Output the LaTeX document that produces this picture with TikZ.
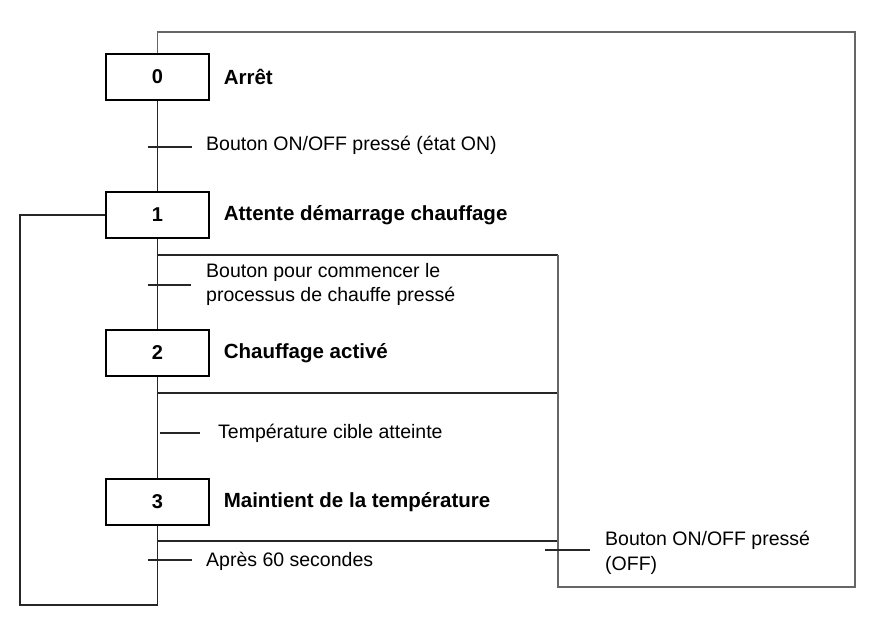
\documentclass[tikz,border=0pt]{standalone}
\usepackage{fontspec}
\setmainfont{Liberation Sans}
\usetikzlibrary{positioning, calc}
\tikzset{
    etape/.style={draw=black, line width=1.2pt, minimum width=103pt, minimum height=46pt, inner sep=0pt, font=\fontsize{20}{24}\selectfont\bfseries},
    action/.style={anchor=west, inner sep=0pt, font=\fontsize{20.5}{24}\selectfont\bfseries},
    recept/.style={anchor=west, align=left, inner sep=0pt, font=\fontsize{19.5}{24.5}\selectfont},
    liaison/.style={draw=black!85, line width=1.2pt},
    retour/.style={draw=black!60, line width=1.3pt}
}

\begin{document}
\begin{tikzpicture}[x=1pt, y=-1pt]
    \useasboundingbox (0,0) rectangle (885,636);
    % Etapes
    \node[etape] (s0) at (157.5,77) {0};
    \node[etape] (s1) at (157.5,215) {1};
    \node[etape] (s2) at (157.5,353) {2};
    \node[etape] (s3) at (157.5,502) {3};
    \node[action, right=14pt of s0] (a0) {Arrêt};
    \node[action, right=14pt of s1] (a1) {Attente démarrage chauffage};
    \node[action, right=14pt of s2] (a2) {Chauffage activé};
    \node[action, right=14pt of s3] (a3) {Maintient de la température};
    % Points de liaison
    \coordinate (haut) at (157.5,32);
    \coordinate (coinHD) at (855,32);
    \coordinate (coinBD) at (855,587);
    \coordinate (coinBG) at (558,587);
    \coordinate (g1) at (157.5,255);
    \coordinate (g2) at (157.5,393);
    \coordinate (g3) at (157.5,541);
    \coordinate (d1) at (558,255);
    \coordinate (d2) at (558,393);
    \coordinate (d3) at (558,541);
    \coordinate (bas) at (157.5,605);
    \coordinate (gauche) at (20,605);
    % Transitions
    \coordinate (t0) at (157.5,147);
    \coordinate (t1) at (157.5,285);
    \coordinate (t2) at (157.5,433);
    \coordinate (t3) at (157.5,560);
    \coordinate (t4) at (558,550);
    % Liaisons
    \draw[liaison] (s0.south) -- (s1.north);
    \draw[liaison] (s1.south) -- (s2.north);
    \draw[liaison] (s2.south) -- (s3.north);
    \draw[liaison] (s3.south) -- (bas) -- (gauche) |- (s1.west);
    \draw[liaison] (g1) -- (d1);
    \draw[liaison] (g2) -- (d2);
    \draw[liaison] (g3) -- (d3);
    \draw[retour] (s0.north) -- (haut) -- (coinHD) -- (coinBD) -- (coinBG) -- (d1);
    % Receptivites
    \draw[liaison] ([xshift=-10pt]t0) -- ([xshift=34pt]t0);
    \draw[liaison] ([xshift=-10pt]t1) -- ([xshift=33pt]t1);
    \draw[liaison] ([xshift=2pt]t2) -- ([xshift=42pt]t2);
    \draw[liaison] ([xshift=-10pt]t3) -- ([xshift=34pt]t3);
    \draw[liaison] ([xshift=-13pt]t4) -- ([xshift=32pt]t4);
    \node[recept, right=48.5pt of t0, yshift=2pt] (r0) {Bouton ON/OFF pressé (état ON)};
    \node[recept, right=48.5pt of t1, yshift=0.5pt] (r1) {Bouton pour commencer le\\processus de chauffe pressé};
    \node[recept, right=60.5pt of t2] (r2) {Température cible atteinte};
    \node[recept, right=48.5pt of t3, yshift=-1pt] (r3) {Après 60 secondes};
    \node[recept, right=47pt of t4, yshift=-3pt] (r4) {Bouton ON/OFF pressé\\(OFF)};
\end{tikzpicture}
\end{document}
